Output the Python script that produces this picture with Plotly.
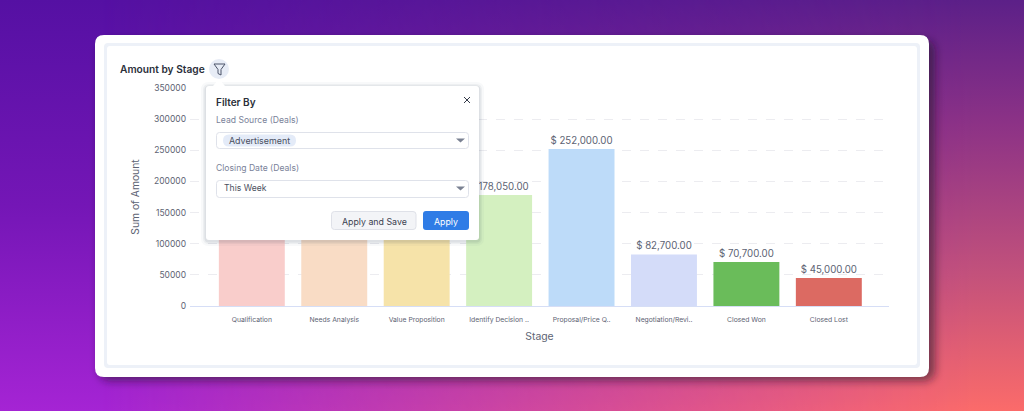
"""Amount by Stage bar chart with the filter popup open over it."""

import base64

import plotly.graph_objects as go

W, H = 1024, 411

STAGES = [
    "Qualification",
    "Needs Analysis",
    "Value Proposition",
    "Identify Decision ..",
    "Proposal/Price Q..",
    "Negotiation/Revi..",
    "Closed Won",
    "Closed Lost",
]
# first three tops sit behind the popup, so those are guesses
AMOUNTS = [150000, 125000, 135000, 178050, 252000, 82700, 70700, 45000]
# labels of the first three bars are covered by the popup in the picture
SHOW_LABEL = [False, False, False, True, True, True, True, True]
BAR_COLORS = [
    "#f9cdcb", "#f9dcc5", "#f6e3a9", "#d4f0c0",
    "#bddbf9", "#d4dcf9", "#6abc5a", "#dc6a62",
]
Y_TICKS = [0, 50000, 100000, 150000, 200000, 250000, 300000, 350000]

INK = "#2b2f3a"
MUTED = "#5d6373"
LABEL = "#7a8299"
FONT = "Inter"


def px(x):
    return x / W


def py(y):
    return 1 - y / H


def round_rect(x0, y0, x1, y1, r):
    """Rounded rectangle path in paper coordinates, from pixel corners."""
    pts = [
        f"M{px(x0 + r)},{py(y0)}",
        f"L{px(x1 - r)},{py(y0)}",
        f"Q{px(x1)},{py(y0)} {px(x1)},{py(y0 + r)}",
        f"L{px(x1)},{py(y1 - r)}",
        f"Q{px(x1)},{py(y1)} {px(x1 - r)},{py(y1)}",
        f"L{px(x0 + r)},{py(y1)}",
        f"Q{px(x0)},{py(y1)} {px(x0)},{py(y1 - r)}",
        f"L{px(x0)},{py(y0 + r)}",
        f"Q{px(x0)},{py(y0)} {px(x0 + r)},{py(y0)}",
        "Z",
    ]
    return " ".join(pts)


def poly(points, close=True):
    path = " ".join(
        ("M" if i == 0 else "L") + f"{px(x)},{py(y)}" for i, (x, y) in enumerate(points)
    )
    return path + (" Z" if close else "")


def box(x0, y0, x1, y1, r, fill, line=None, width=1):
    return dict(
        type="path",
        xref="paper",
        yref="paper",
        path=round_rect(x0, y0, x1, y1, r),
        fillcolor=fill,
        line=dict(color=line or "rgba(0,0,0,0)", width=width if line else 0),
        layer="above",
    )


def label(x, y, text, size=10, color=MUTED, anchor="left", weight=400):
    return dict(
        xref="paper",
        yref="paper",
        x=px(x),
        y=py(y),
        text=text,
        showarrow=False,
        xanchor=anchor,
        yanchor="middle",
        borderpad=0,
        borderwidth=0,
        font=dict(family=FONT, size=size, color=color, weight=weight),
    )


# page background: two vertical gradients blended left to right, plus card shadow
BACKGROUND_SVG = f"""<svg xmlns="http://www.w3.org/2000/svg" width="{W}" height="{H}" viewBox="0 0 {W} {H}">
<defs>
<linearGradient id="l" x1="0" y1="0" x2="0" y2="1">
<stop offset="0" stop-color="#5510a3"/><stop offset="0.5" stop-color="#7416b6"/><stop offset="1" stop-color="#a524d4"/>
</linearGradient>
<linearGradient id="r" x1="0" y1="0" x2="0" y2="1">
<stop offset="0" stop-color="#5c2088"/><stop offset="0.3" stop-color="#8c3286"/><stop offset="0.65" stop-color="#c0507c"/><stop offset="1" stop-color="#fb6b6a"/>
</linearGradient>
<linearGradient id="h" x1="0" y1="0" x2="1" y2="0">
<stop offset="0.1" stop-color="#000"/><stop offset="0.95" stop-color="#fff"/>
</linearGradient>
<mask id="m"><rect width="{W}" height="{H}" fill="url(#h)"/></mask>
<filter id="b" x="-10%" y="-10%" width="120%" height="120%"><feGaussianBlur stdDeviation="4"/></filter>
</defs>
<rect width="{W}" height="{H}" fill="url(#l)"/>
<rect width="{W}" height="{H}" fill="url(#r)" mask="url(#m)"/>
<rect x="99" y="40" width="836" height="341" rx="10" fill="#20102a" fill-opacity="0.55" filter="url(#b)"/>
</svg>"""
background = "data:image/svg+xml;base64," + base64.b64encode(BACKGROUND_SVG.encode()).decode()

fig = go.Figure(
    go.Bar(
        x=STAGES,
        y=AMOUNTS,
        marker=dict(color=BAR_COLORS, line=dict(width=0)),
        width=0.8,
        text=[f"$ {v:,.2f}" if show else "" for v, show in zip(AMOUNTS, SHOW_LABEL)],
        textposition="outside",
        cliponaxis=False,
        textfont=dict(family=FONT, size=9.7, color=MUTED),
        hoverinfo="skip",
    )
)

shapes = [
    # card and its pale inner frame
    dict(box(95, 35, 929, 377, 9, "#ffffff"), layer="below"),
    dict(box(104, 43, 920, 368, 4, "#edf1f8"), layer="below"),
    dict(box(107, 46, 917, 365, 3, "#ffffff"), layer="below"),
    # filter button
    dict(
        type="circle", xref="paper", yref="paper",
        x0=px(209), x1=px(229), y0=py(79), y1=py(59),
        fillcolor="#e7ecf6", line=dict(width=0), layer="above",
    ),
    dict(
        type="path", xref="paper", yref="paper",
        path=poly([(214, 64), (225, 64), (221, 69.5), (221, 75), (218, 73.5), (218, 69.5)]),
        fillcolor="rgba(0,0,0,0)", line=dict(color="#4b5368", width=1), layer="above",
    ),
]

# popup shadow, then body and pointer
for grow, alpha in [(5, 0.03), (3, 0.05), (1.5, 0.08)]:
    shapes.append(box(206 - grow, 86 - grow + 1, 479 + grow, 240 + grow + 1, 3 + grow, f"rgba(40,50,80,{alpha})"))
shapes += [
    box(206, 86, 479, 240, 3, "#ffffff"),
    dict(
        type="path", xref="paper", yref="paper",
        path=poly([(213, 86), (219, 79), (225, 86)]),
        fillcolor="#ffffff", line=dict(width=0), layer="above",
    ),
    # close cross
    dict(
        type="path", xref="paper", yref="paper",
        path=poly([(464, 97), (470, 103)], close=False) + " " + poly([(470, 97), (464, 103)], close=False),
        line=dict(color="#333a48", width=1), layer="above",
    ),
    # dropdowns
    box(216.5, 132.5, 468.5, 148.5, 3, "#ffffff", "#dfe2ea"),
    box(223, 134.5, 296, 146.5, 6, "#e4ebf8"),
    box(216.5, 180.5, 468.5, 197.5, 3, "#ffffff", "#dfe2ea"),
    # buttons
    box(331.5, 211.5, 416, 229.5, 3, "#f3f4f7", "#dfe1e8"),
    box(423, 211, 469, 230, 3, "#2f7ce6"),
]
for top in (138.5, 186.5):
    shapes.append(
        dict(
            type="path", xref="paper", yref="paper",
            path=poly([(456, top), (465, top), (460.5, top + 4)]),
            fillcolor="#7a8192", line=dict(width=0), layer="above",
        )
    )

annotations = [
    label(120, 69, "Amount by Stage", size=10.2, color=INK, weight=600),
    label(216, 102, "Filter By", size=10, color=INK, weight=600),
    label(216, 120, "Lead Source (Deals)", size=8.6, color=LABEL),
    label(229, 140.5, "Advertisement", size=8.9, color="#4a5060"),
    label(216, 168, "Closing Date (Deals)", size=8.6, color=LABEL),
    label(223.5, 188.5, "This Week", size=8.6, color="#4a5060"),
    label(374, 221, "Apply and Save", size=8.8, color="#3c4250", anchor="center"),
    label(446, 221, "Apply", size=8.8, color="#ffffff", anchor="center"),
]

fig.update_layout(
    width=W,
    height=H,
    margin=dict(l=0, r=0, t=0, b=0),
    autosize=False,
    showlegend=False,
    paper_bgcolor="#6a1f9a",
    plot_bgcolor="rgba(0,0,0,0)",
    font=dict(family=FONT, color=MUTED),
    images=[
        dict(
            source=background, xref="paper", yref="paper",
            x=0, y=1, sizex=1, sizey=1, sizing="stretch",
            xanchor="left", yanchor="top", layer="below",
        )
    ],
    shapes=shapes,
    annotations=annotations,
)
fig.update_xaxes(
    automargin=False,
    domain=[px(190), px(889)],
    range=[-0.75, 7.73],
    showgrid=False,
    showline=True,
    linecolor="#d6def6",
    linewidth=1,
    ticks="",
    tickangle=0,
    ticklabelstandoff=7,
    tickfont=dict(family=FONT, size=6.8, color=MUTED),
    title=dict(text="Stage", font=dict(family=FONT, size=10.4, color=MUTED), standoff=9),
)
fig.update_yaxes(
    automargin=False,
    domain=[py(306), py(88)],
    range=[0, 350000],
    tickvals=Y_TICKS,
    ticktext=[str(v) for v in Y_TICKS],
    showgrid=True,
    gridcolor="#ececf0",
    griddash="dash",
    gridwidth=1,
    zeroline=False,
    showline=False,
    ticks="",
    ticklabelstandoff=3,
    tickfont=dict(family=FONT, size=8.5, color=MUTED),
    title=dict(text="Sum of Amount", font=dict(family=FONT, size=10.3, color=MUTED), standoff=12),
)

fig.write_html(
    "out.html",
    config=dict(displayModeBar=False),
    post_script="document.body.style.margin='0';document.body.style.overflow='hidden';",
)
